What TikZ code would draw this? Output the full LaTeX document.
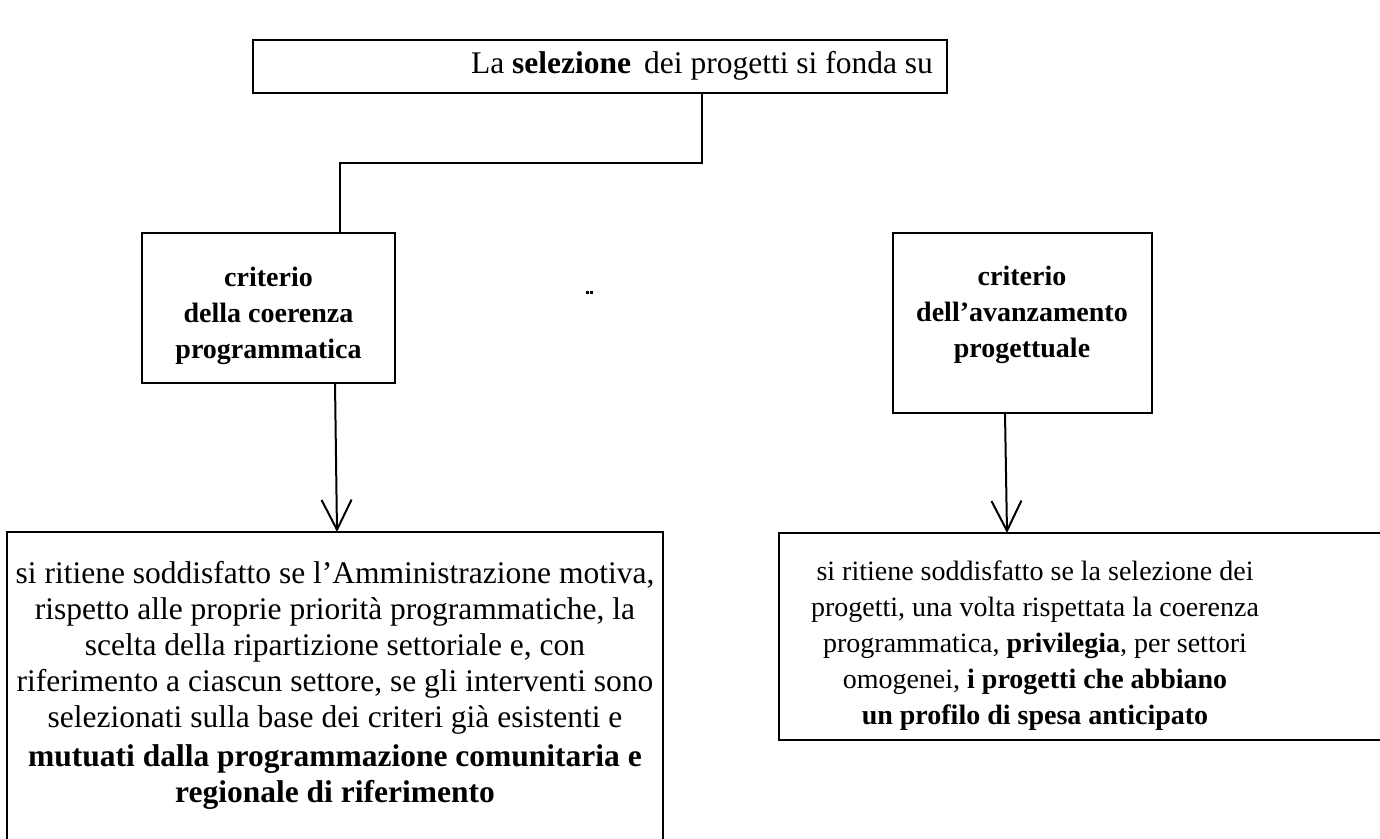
\documentclass[tikz,border=0pt]{standalone}
\usepackage{fontspec}
\setmainfont{Liberation Serif}
\usetikzlibrary{arrows.meta}
\tikzset{
  boxline/.style={draw=black, line width=2pt},
  conn/.style={draw=black, line width=2pt},
  arr/.style={draw=black, line width=2pt, -{Straight Barb[length=30pt,width=30pt,line width=2pt]}},
  txt/.style={inner sep=0pt, align=center, font=\fontsize{28}{36}\selectfont},
  bigtxt/.style={inner sep=0pt, align=center, font=\fontsize{31.5}{36}\selectfont},
}
\begin{document}
\begin{tikzpicture}[x=1pt,y=-1pt]
\useasboundingbox (0,0) rectangle (1380,838);
% boxes
\draw[boxline] (253,40) rectangle (947,93);
\node[bigtxt] (toptxt) at (702,66) {La \textbf{selezione}\, dei progetti si fonda su};
\draw[boxline] (142,233) rectangle (395,383);
\node[txt] (lefttxt) at (268.5,316) {\textbf{criterio}\\\textbf{della coerenza}\\\textbf{programmatica}};
\draw[boxline] (893,233) rectangle (1152,413);
\node[txt] (righttxt) at (1022,315) {\textbf{criterio}\\\textbf{dell’avanzamento}\\\textbf{progettuale}};
\draw[boxline] (7,532) rectangle (663,850);
\node[bigtxt] (bltxt) at (335,685) {si ritiene soddisfatto se l’Amministrazione motiva,\\rispetto alle proprie priorità programmatiche, la\\scelta della ripartizione settoriale e, con\\riferimento a ciascun settore, se gli interventi sono\\selezionati sulla base dei criteri già esistenti e\\[3pt]\textbf{mutuati dalla programmazione comunitaria e}\\\textbf{regionale di riferimento}};
\draw[boxline] (779,533) rectangle (1390,740);
\node[txt] (brtxt) at (1035,646) {si ritiene soddisfatto se la selezione dei\\progetti, una volta rispettata la coerenza\\programmatica, \textbf{privilegia}, per settori\\omogenei, \textbf{i progetti che abbiano}\\\textbf{un profilo di spesa anticipato}};
% stray dots
\fill (586,291) rectangle (588.5,293.5);
\fill (590,291) rectangle (592.5,293.5);
% coordinates
\coordinate (tb) at (702,93);
\coordinate (j) at (702,163);
\coordinate (lj) at (340,163);
\coordinate (lt) at (340,233);
\coordinate (lb) at (335,383);
\coordinate (le) at (337,532);
\coordinate (rb) at (1005,413);
\coordinate (re) at (1007,533);
\draw[conn] (tb) -- (j) -- (lj) -- (lt);
\draw[arr] (lb) -- (le);
\draw[arr] (rb) -- (re);
\end{tikzpicture}
\end{document}
